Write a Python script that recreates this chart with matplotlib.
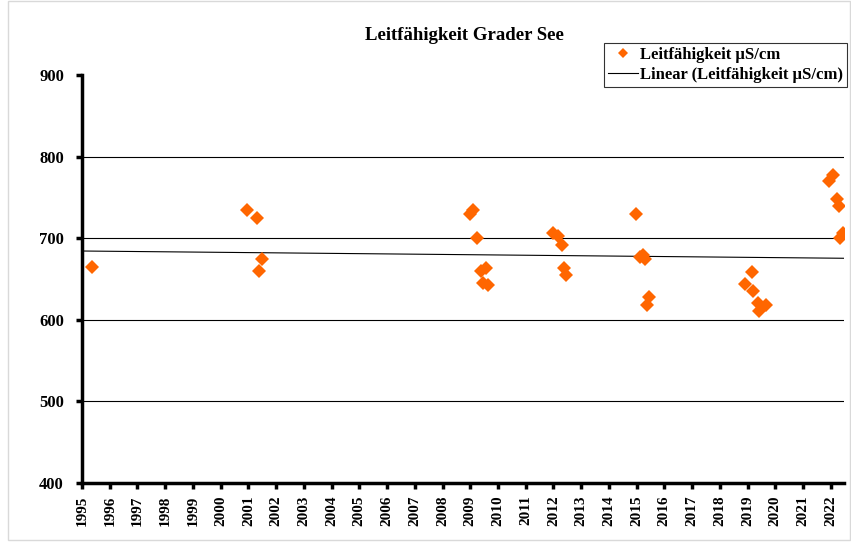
import numpy as np
import matplotlib
matplotlib.use("Agg")
import matplotlib.pyplot as plt
from matplotlib.patches import Rectangle
from matplotlib.lines import Line2D

# Data (decimal years, conductivity µS/cm)
dates = [1995.36, 2000.95, 2001.31, 2001.38, 2001.49,
         2008.99, 2009.10, 2009.24, 2009.39, 2009.57, 2009.46, 2009.64,
         2011.99, 2012.17, 2012.31, 2012.38, 2012.45,
         2014.96, 2015.12, 2015.22, 2015.30, 2015.46, 2015.36,
         2018.91, 2019.16, 2019.21, 2019.39, 2019.42, 2019.67,
         2021.95, 2022.07, 2022.24, 2022.31, 2022.43, 2022.33]
values = [665, 735, 725, 660, 675,
          730, 735, 700, 660, 663, 645, 643,
          706, 703, 692, 663, 655,
          730, 677, 679, 674, 628, 618,
          644, 658, 635, 620, 611, 618,
          770, 778, 748, 739, 706, 700]
# Linear trend line (start / end of the x range)
trend_x = [1995.0, 2022.48]
trend_y = [684.3, 675.4]
year_ticks = list(range(1995, 2023))
y_ticks = [400, 500, 600, 700, 800, 900]

title = "Leitfähigkeit Grader See"
series_label = "Leitfähigkeit µS/cm"
trend_label = "Linear (Leitfähigkeit µS/cm)"

plt.rcParams['font.family'] = ['Liberation Serif', 'DejaVu Serif']
plt.rcParams['font.weight'] = 'bold'

fig = plt.figure(figsize=(8.51, 5.42), dpi=100)
ax = fig.add_axes([0.0964, 0.1089, 0.8954, 0.7527])

orange = '#FF6600'
ax.plot(dates, values, linestyle='none', marker='D', markersize=7,
        color=orange, markeredgewidth=0, zorder=3)
ax.plot(trend_x, trend_y, color='black', lw=0.8, zorder=2)

ax.set_xlim(trend_x[0], trend_x[1])
ax.set_ylim(400, 900)
ax.set_xticks(year_ticks)
ax.set_xticklabels([str(y) for y in year_ticks], rotation=90, fontsize=11,
                   fontweight='bold')
ax.set_yticks(y_ticks)
ax.set_yticklabels([str(v) for v in y_ticks], fontsize=12, fontweight='bold')

ax.grid(axis='y', color='black', lw=0.8)
ax.grid(axis='x', visible=False)
fig.canvas.draw()
ax.yaxis.get_gridlines()[-1].set_visible(False)
ax.yaxis.get_gridlines()[0].set_visible(False)

for s in ['top', 'right']:
    ax.spines[s].set_visible(False)
ax.spines['left'].set_linewidth(2.5)
ax.spines['bottom'].set_linewidth(2.5)
ax.tick_params(axis='y', direction='out', length=4, width=2.5, pad=9)
ax.tick_params(axis='x', direction='out', length=4, width=2.5, pad=5)

fig.text(0.546, 0.935, title, ha='center', va='center', fontsize=13.5,
         fontweight='bold')

handles = [Line2D([], [], linestyle='none', marker='D', markersize=5,
                  color=orange, markeredgewidth=0),
           Line2D([], [], color='black', lw=0.8)]
leg = fig.legend(handles, [series_label, trend_label],
                 loc='upper right', bbox_to_anchor=(0.9953, 0.9207),
                 prop={'family': 'Liberation Serif', 'weight': 'bold', 'size': 12},
                 frameon=True, fancybox=False, edgecolor='black',
                 borderpad=0.25, labelspacing=0.25, handlelength=1.8,
                 handletextpad=0.1, borderaxespad=0)
leg.get_frame().set_linewidth(0.8)

fig.patches.append(Rectangle((0.009, 0.003), 0.99, 0.996, transform=fig.transFigure,
                             fill=False, edgecolor='#d9d9d9', lw=1))

fig.savefig('out.png', dpi=100)
